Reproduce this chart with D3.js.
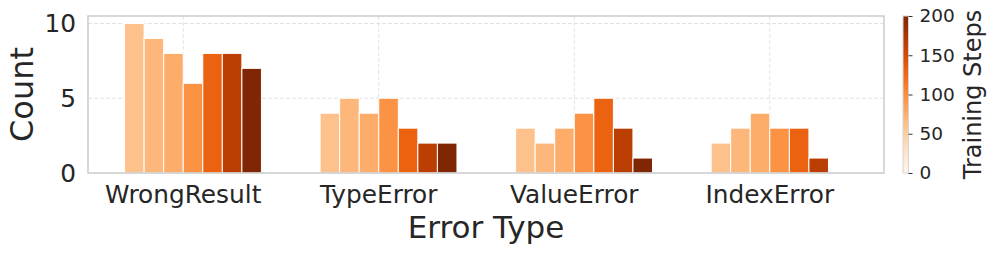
<!DOCTYPE html>
<html>
<head>
<meta charset="utf-8">
<script src="https://cdn.jsdelivr.net/npm/d3@7"></script>
<style>
  body { margin: 0; background: #fff; }
  text { font-family: "DejaVu Sans", sans-serif; fill: #262626; }
</style>
</head>
<body>
<svg id="chart" width="996" height="254"></svg>
<script>
// error categories on the x axis
var errorTypes = ['WrongResult', 'TypeError', 'ValueError', 'IndexError'];

// one series per checkpoint (first slot is empty in every group)
var checkpoints = ['s0', 's1', 's2', 's3', 's4', 's5', 's6', 's7'];

// counts per checkpoint, same order as errorTypes
var counts = [
  [0, 0, 0, 0],
  [10, 4, 3, 2],
  [9, 5, 2, 3],
  [8, 4, 3, 4],
  [6, 5, 4, 3],
  [8, 3, 5, 3],
  [8, 2, 3, 1],
  [7, 2, 1, 0]
];

var yTicks = [0, 5, 10];
var stepTicks = [0, 50, 100, 150, 200];

// bar shades picked off the Oranges ramp
var shades = [0.25, 0.3, 0.342, 0.383, 0.481, 0.651, 0.823, 1.0];

var svg = d3.select('#chart');
// note: "top" is taken by window.top, so plain names are avoided
var plotL = 88, plotR = 884, plotT = 16, plotB = 173;

var x = d3.scaleLinear().domain([-0.487, 3.584]).range([plotL, plotR]);
var y = d3.scaleLinear().domain([0, 10.5]).range([plotB, plotT]);
var barW = 0.1;

var fill = d3.scaleOrdinal()
  .domain(checkpoints)
  .range(shades.map(function(t) { return d3.interpolateOranges(t); }));

// grid
var grid = svg.append('g');
grid.selectAll('line.gy')
  .data(yTicks)
  .enter().append('line')
  .attr('class', 'gy')
  .attr('x1', plotL).attr('x2', plotR)
  .attr('y1', function(d) { return y(d); })
  .attr('y2', function(d) { return y(d); })
  .attr('stroke', '#e3e3e3')
  .attr('stroke-width', 1)
  .attr('stroke-dasharray', '4,2');

grid.selectAll('line.gx')
  .data(errorTypes)
  .enter().append('line')
  .attr('class', 'gx')
  .attr('x1', function(d, i) { return x(i); })
  .attr('x2', function(d, i) { return x(i); })
  .attr('y1', plotT).attr('y2', plotB)
  .attr('stroke', '#e3e3e3')
  .attr('stroke-width', 1)
  .attr('stroke-dasharray', '4,2');

// bars
var bars = [];
checkpoints.forEach(function(c, si) {
  errorTypes.forEach(function(e, ci) {
    bars.push({ series: c, si: si, ci: ci, value: counts[si][ci] });
  });
});

svg.append('g').selectAll('rect')
  .data(bars.filter(function(d) { return d.value > 0; }))
  .enter().append('rect')
  .attr('x', function(d) { return x(d.ci + (d.si - 4) * barW); })
  .attr('width', function() { return x(barW) - x(0); })
  .attr('y', function(d) { return y(d.value); })
  .attr('height', function(d) { return y(0) - y(d.value); })
  .attr('fill', function(d) { return fill(d.series); })
  .attr('stroke', '#fff')
  .attr('stroke-width', 1);

// frame
svg.append('rect')
  .attr('x', plotL).attr('y', plotT)
  .attr('width', plotR - plotL).attr('height', plotB - plotT)
  .attr('fill', 'none')
  .attr('stroke', '#cccccc')
  .attr('stroke-width', 1.5);

// y tick labels
svg.append('g').selectAll('text')
  .data(yTicks)
  .enter().append('text')
  .attr('x', 76)
  .attr('y', function(d) { return y(d); })
  .attr('dy', '0.36em')
  .attr('text-anchor', 'end')
  .style('font-size', '24.8px')
  .text(function(d) { return d; });

// x tick labels
svg.append('g').selectAll('text')
  .data(errorTypes)
  .enter().append('text')
  .attr('x', function(d, i) { return x(i); })
  .attr('y', 203)
  .attr('text-anchor', 'middle')
  .style('font-size', '24.8px')
  .text(function(d) { return d; });

// axis titles
svg.append('text')
  .attr('transform', 'translate(32.5,' + ((plotT + plotB) / 2) + ') rotate(-90)')
  .attr('text-anchor', 'middle')
  .style('font-size', '32px')
  .text('Count');

svg.append('text')
  .attr('x', (plotL + plotR) / 2)
  .attr('y', 238)
  .attr('text-anchor', 'middle')
  .style('font-size', '31px')
  .text('Error Type');

// colorbar
var cbX = 903, cbW = 5.5;
var cy = d3.scaleLinear().domain([0, 200]).range([plotB, plotT]);

var grad = svg.append('defs').append('linearGradient')
  .attr('id', 'cbgrad')
  .attr('x1', 0).attr('y1', 1).attr('x2', 0).attr('y2', 0);
d3.range(0, 1.0001, 0.05).forEach(function(t) {
  grad.append('stop')
    .attr('offset', t)
    .attr('stop-color', d3.interpolateOranges(t));
});

svg.append('rect')
  .attr('x', cbX).attr('y', plotT)
  .attr('width', cbW).attr('height', plotB - plotT)
  .attr('fill', 'url(#cbgrad)')
  .attr('stroke', '#d5d5d5')
  .attr('stroke-width', 1);

var cbAxis = d3.axisRight(cy)
  .tickValues(stepTicks)
  .tickSize(4)
  .tickPadding(7);

var cbG = svg.append('g')
  .attr('transform', 'translate(' + (cbX + cbW) + ',0)')
  .call(cbAxis);
cbG.select('.domain').remove();
cbG.selectAll('line').attr('stroke', '#333');
cbG.selectAll('text')
  .style('font-size', '18.5px')
  .style('font-family', '"DejaVu Sans", sans-serif')
  .attr('fill', '#262626');

svg.append('text')
  .attr('transform', 'translate(980.5,' + ((plotT + plotB) / 2) + ') rotate(-90)')
  .attr('text-anchor', 'middle')
  .style('font-size', '24px')
  .text('Training Steps');
</script>
</body>
</html>
